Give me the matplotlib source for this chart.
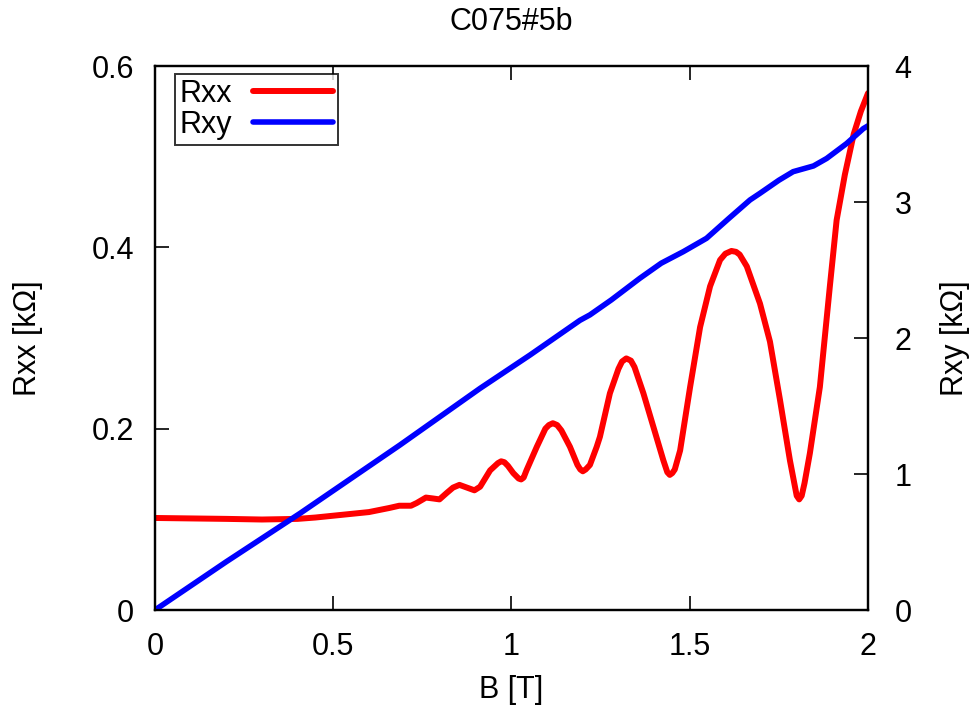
import matplotlib
matplotlib.use("Agg")
import matplotlib.pyplot as plt

plt.rcParams['font.family'] = ['Liberation Sans', 'DejaVu Sans']

title = "C075#5b"

B_xx = [0.00, 0.10, 0.20, 0.30, 0.40, 0.45, 0.50, 0.55, 0.60, 0.657, 0.685, 0.718,
        0.734, 0.760, 0.780, 0.798, 0.818, 0.836, 0.854, 0.875, 0.896, 0.912, 0.940,
        0.962, 0.971, 0.980, 0.990, 1.005, 1.020, 1.027, 1.034, 1.042, 1.071, 1.095,
        1.105, 1.116, 1.128, 1.140, 1.164, 1.185, 1.193, 1.200, 1.208, 1.220, 1.239,
        1.248, 1.276, 1.300, 1.310, 1.322, 1.335, 1.345, 1.370, 1.398, 1.426, 1.437,
        1.444, 1.451, 1.458, 1.473, 1.501, 1.529, 1.557, 1.585, 1.600, 1.617, 1.630,
        1.640, 1.660, 1.697, 1.725, 1.753, 1.781, 1.800, 1.807, 1.814, 1.822, 1.837,
        1.865, 1.893, 1.912, 1.935, 1.960, 1.980, 2.000]
Rxx = [0.1015, 0.101, 0.1005, 0.0998, 0.1005, 0.102, 0.104, 0.106, 0.108, 0.1125, 0.115, 0.115,
       0.118, 0.124, 0.123, 0.122, 0.129, 0.135, 0.138, 0.135, 0.132, 0.136, 0.154,
       0.162, 0.164, 0.163, 0.159, 0.151, 0.145, 0.144, 0.146, 0.154, 0.180, 0.200,
       0.204, 0.206, 0.204, 0.198, 0.180, 0.160, 0.155, 0.153, 0.155, 0.160, 0.180,
       0.191, 0.239, 0.266, 0.274, 0.2775, 0.275, 0.268, 0.239, 0.202, 0.165, 0.152,
       0.149, 0.151, 0.155, 0.176, 0.246, 0.312, 0.357, 0.386, 0.393, 0.396, 0.395,
       0.392, 0.379, 0.338, 0.296, 0.232, 0.165, 0.126, 0.122, 0.126, 0.140, 0.173,
       0.246, 0.357, 0.430, 0.480, 0.525, 0.550, 0.570]

B_xy = [0.00, 0.20, 0.407, 0.687, 0.912, 1.052, 1.192, 1.22, 1.28, 1.360, 1.420,
        1.482, 1.547, 1.610, 1.669, 1.697, 1.750, 1.790, 1.847, 1.884, 1.940, 1.987, 2.00]
Rxy = [0.00, 0.355, 0.711, 1.213, 1.630, 1.875, 2.13, 2.17, 2.28, 2.439, 2.55,
       2.635, 2.733, 2.88, 3.015, 3.064, 3.16, 3.223, 3.265, 3.32, 3.43, 3.54, 3.56]

xticks = [0, 0.5, 1, 1.5, 2]
xticklabels = ["0", "0.5", "1", "1.5", "2"]
yticks_l = [0, 0.2, 0.4, 0.6]
yticklabels_l = ["0", "0.2", "0.4", "0.6"]
yticks_r = [0, 1, 2, 3, 4]
yticklabels_r = ["0", "1", "2", "3", "4"]

FS = 22

fig = plt.figure(figsize=(9.78, 7.13), dpi=100)
ax = fig.add_axes([155/978, 103/713, 713/978, 544/713])
ax2 = ax.twinx()

l1, = ax.plot(B_xx, Rxx, color='#ff0000', lw=4.3, label='Rxx',
              solid_joinstyle='round', solid_capstyle='round')
l2, = ax2.plot(B_xy, Rxy, color='#0000ff', lw=4.0, label='Rxy',
               solid_joinstyle='round', solid_capstyle='round')

ax.set_xlim(0, 2)
ax.set_ylim(0, 0.6)
ax2.set_ylim(0, 4)

ax.set_xticks(xticks)
ax.set_xticklabels(xticklabels)
ax.set_yticks(yticks_l)
ax.set_yticklabels(yticklabels_l)
ax2.set_yticks(yticks_r)
ax2.set_yticklabels(yticklabels_r)

ax.tick_params(axis='x', direction='in', length=10, width=1.2, labelsize=FS, pad=16, top=True)
ax.tick_params(axis='y', direction='in', length=10, width=1.2, labelsize=FS, pad=15, right=False)
ax2.tick_params(axis='y', direction='in', length=10, width=1.2, labelsize=FS, pad=19)

for a in (ax, ax2):
    for s in a.spines.values():
        s.set_linewidth(1.6)

ax.set_xlabel("B [T]", fontsize=FS, va='center')
ax.xaxis.set_label_coords(0.5, (610 - 690) / 544)
ax.set_ylabel("Rxx [kΩ]", fontsize=FS, va='center')
ax.yaxis.set_label_coords((28 - 155) / 713, 0.5)
ax2.set_ylabel("Rxy [kΩ]", fontsize=FS, va='center')
ax2.yaxis.set_label_coords((955 - 155) / 713, 0.5)
ax.set_title(title, fontsize=FS, y=(610 - 22) / 544, va='center', pad=0)

leg = ax2.legend([l1, l2], ['Rxx', 'Rxy'], loc='upper left',
                 bbox_to_anchor=((175 - 155) / 713, (610 - 74) / 544),
                 fontsize=FS, markerfirst=False, frameon=True, fancybox=False,
                 handlelength=2.6, handletextpad=0.7, borderpad=0.15, labelspacing=0.05,
                 borderaxespad=0)
leg.get_frame().set_edgecolor('black')
leg.get_frame().set_linewidth(1.4)

fig.savefig("out.png", dpi=100)
